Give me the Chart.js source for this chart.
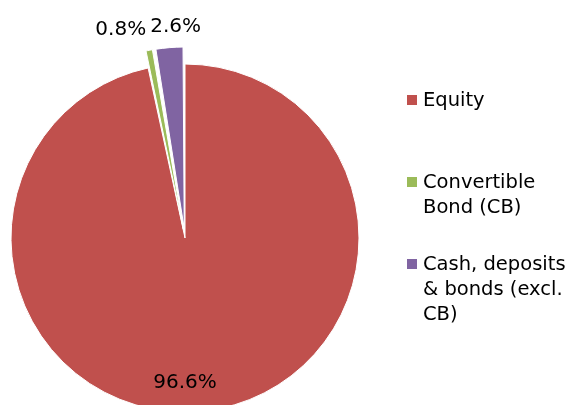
<!DOCTYPE html>
<html>
<head>
<meta charset="utf-8">
<script src="https://cdn.jsdelivr.net/npm/chart.js@4"></script>
<style>
  html, body { margin: 0; padding: 0; background: #fff; }
</style>
</head>
<body>
<canvas id="myChart" width="573" height="405"></canvas>
<script>
const categories = ["Equity", "Convertible Bond (CB)", "Cash, deposits & bonds (excl. CB)"];
const legendLines = [["Equity"], ["Convertible", "Bond (CB)"], ["Cash, deposits", "& bonds (excl.", "CB)"]];
const shares = [96.6, 0.8, 2.6];
const shareLabels = ["96.6%", "0.8%", "2.6%"];
const sliceColors = ["#C0504D", "#9BBB59", "#8064A2"];

const FONT = "'DejaVu Sans', sans-serif";

// percentage labels: big slice inside near the bottom, small ones outside end
const pieLabels = {
  id: "pieLabels",
  afterDatasetsDraw(chart) {
    const ctx = chart.ctx;
    const arcs = chart.getDatasetMeta(0).data;
    const placed = [];
    ctx.save();
    ctx.font = "20px " + FONT;
    ctx.fillStyle = "#000";
    ctx.textAlign = "center";
    ctx.textBaseline = "alphabetic";
    arcs.forEach((arc, i) => {
      const { x, y, startAngle, endAngle, outerRadius } =
        arc.getProps(["x", "y", "startAngle", "endAngle", "outerRadius"], true);
      const circ = endAngle - startAngle;
      const text = shareLabels[i];
      const w = ctx.measureText(text).width;
      if (circ > Math.PI) {
        const a = Math.PI / 2;
        const d = outerRadius * 0.82;
        placed.push({ text, x: x + Math.cos(a) * d, y: y + Math.sin(a) * d, w });
      } else {
        const mid = (startAngle + endAngle) / 2;
        const off = (arc.options.offset || 0) / 4;
        const push = off * (2 - Math.sin(Math.min(Math.PI, circ)));
        const d = outerRadius + push + 23;
        placed.push({ text, x: x + Math.cos(mid) * d, y: y + Math.sin(mid) * d, w, outside: true });
      }
    });
    // spread outside labels apart if they overlap (mostly pushing the left one)
    const outside = placed.filter(p => p.outside).sort((a, b) => a.x - b.x);
    for (let k = 1; k < outside.length; k++) {
      const a = outside[k - 1], b = outside[k];
      const need = (a.w + b.w) / 2 + 4 - (b.x - a.x);
      if (need > 0) { a.x -= need * 0.75; b.x += need * 0.25; }
    }
    placed.forEach(p => ctx.fillText(p.text, p.x, p.y + 7));
    ctx.restore();
  }
};

// legend on the right with wrapped labels
const sideLegend = {
  id: "sideLegend",
  afterDraw(chart) {
    const ctx = chart.ctx;
    const lh = 25, box = 10, boxX = 407, textX = 423, firstCenter = 100, slot = 94.5;
    ctx.save();
    ctx.font = "19.5px " + FONT;
    ctx.textAlign = "left";
    ctx.textBaseline = "alphabetic";
    legendLines.forEach((lines, i) => {
      const c = firstCenter + slot * i;
      const base = c - (lines.length - 1) * lh / 2 + 6;
      ctx.fillStyle = sliceColors[i];
      ctx.fillRect(boxX, base - 11, box, box);
      ctx.fillStyle = "#000";
      lines.forEach((line, j) => ctx.fillText(line, textX, base + j * lh));
    });
    ctx.restore();
  }
};

new Chart(document.getElementById("myChart").getContext("2d"), {
  type: "pie",
  data: {
    labels: categories,
    datasets: [
      {
        data: shares,
        backgroundColor: sliceColors,
        borderColor: "#fff",
        borderWidth: 1,
        offset: [0, 35, 37],
        clip: false,
      },
    ],
  },
  options: {
    responsive: false,
    animation: false,
    radius: 174,
    layout: { padding: { left: 0, right: 203, top: 71, bottom: 0 } },
    plugins: {
      legend: { display: false },
      tooltip: { enabled: false },
    },
  },
  plugins: [pieLabels, sideLegend],
});
</script>
</body>
</html>
